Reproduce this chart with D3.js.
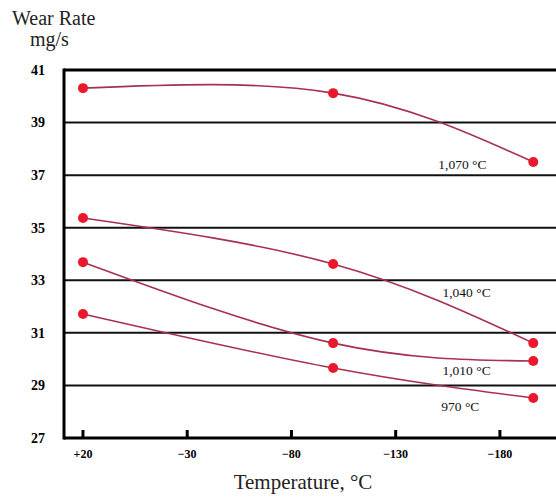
<!DOCTYPE html>
<html>
<head>
<meta charset="utf-8">
<script src="https://cdn.jsdelivr.net/npm/d3@7/dist/d3.min.js"></script>
<style>
  body { margin: 0; background: #fff; }
  svg { display: block; }
</style>
</head>
<body>
<div id="chart"></div>
<script>
// temperatures where wear was measured
const temps = [20, -100, -196];
const seriesNames = ['1,070 °C', '1,040 °C', '1,010 °C', '970 °C'];
const wear1070 = [40.31, 40.12, 37.5];
const wear1040 = [35.37, 33.62, 30.61];
const wear1010 = [33.69, 30.61, 29.93];
const wear970 = [31.72, 29.66, 28.52];
const xTicks = [20, -30, -80, -130, -180];
const xTickLabels = ['+20', '\u221230', '\u221280', '\u2212130', '\u2212180'];
const yTicks = [27, 29, 31, 33, 35, 37, 39, 41];
// where each series label sits (temperature, wear rate)
const labelSpots = [[-162, 37.23], [-164, 32.36], [-164, 29.4], [-161, 28.03]];

const W = 556, H = 499;
const margin = { top: 70, right: 0, bottom: 61, left: 64 };
const width = W - margin.left - margin.right;
const height = H - margin.top - margin.bottom;

const svg = d3.select('#chart').append('svg')
  .attr('width', W)
  .attr('height', H);

const g = svg.append('g')
  .attr('transform', `translate(${margin.left},${margin.top})`);

const x = d3.scaleLinear().domain([29.1, -206.9]).range([0, width]);
const y = d3.scaleLinear().domain([27, 41]).range([height, 0]);

// horizontal grid
g.selectAll('.grid')
  .data(yTicks.filter(d => d > 27 && d < 41))
  .join('line')
  .attr('class', 'grid')
  .attr('x1', 0).attr('x2', width)
  .attr('y1', d => y(d)).attr('y2', d => y(d))
  .attr('stroke', '#111').attr('stroke-width', 2);

// frame: top, left, bottom
g.append('line').attr('x1', 0).attr('x2', width).attr('y1', y(41)).attr('y2', y(41))
  .attr('stroke', '#000').attr('stroke-width', 3);
g.append('line').attr('x1', 0).attr('x2', 0).attr('y1', y(41) - 1.5).attr('y2', height + 1.5)
  .attr('stroke', '#000').attr('stroke-width', 3);
g.append('line').attr('x1', 0).attr('x2', width).attr('y1', height).attr('y2', height)
  .attr('stroke', '#000').attr('stroke-width', 3);

// x ticks point up into the plot
g.selectAll('.xtick')
  .data(xTicks)
  .join('line')
  .attr('class', 'xtick')
  .attr('x1', d => x(d)).attr('x2', d => x(d))
  .attr('y1', height).attr('y2', height - 8)
  .attr('stroke', '#000').attr('stroke-width', 3);

g.selectAll('.xlab')
  .data(xTicks)
  .join('text')
  .attr('class', 'xlab')
  .attr('x', d => x(d))
  .attr('y', height + 20)
  .attr('text-anchor', 'middle')
  .style('font', 'bold 12px "Liberation Serif", serif')
  .text((d, i) => xTickLabels[i]);

g.selectAll('.ylab')
  .data(yTicks)
  .join('text')
  .attr('class', 'ylab')
  .attr('x', -19)
  .attr('y', d => y(d))
  .attr('dy', '0.35em')
  .attr('text-anchor', 'end')
  .style('font', 'bold 14px "Liberation Serif", serif')
  .text(d => d);

// titles
svg.append('text').attr('x', 12).attr('y', 25)
  .style('font', '20px "Liberation Serif", serif').attr('fill', '#222')
  .text('Wear Rate');
svg.append('text').attr('x', 30).attr('y', 46)
  .style('font', '20px "Liberation Serif", serif').attr('fill', '#222')
  .text('mg/s');
svg.append('text').attr('x', 303).attr('y', 489)
  .attr('text-anchor', 'middle')
  .style('font', '21px "Liberation Serif", serif').attr('fill', '#222')
  .text('Temperature, \u00b0C');

const series = [wear1070, wear1040, wear1010, wear970];

const line = d3.line()
  .curve(d3.curveNatural)
  .x((d, i) => x(temps[i]))
  .y(d => y(d));

g.selectAll('.curve')
  .data(series)
  .join('path')
  .attr('class', 'curve')
  .attr('fill', 'none')
  .attr('stroke', '#a83050')
  .attr('stroke-width', 1.6)
  .attr('d', d => line(d));

series.forEach((vals, s) => {
  g.selectAll('.pt' + s)
    .data(vals)
    .join('circle')
    .attr('class', 'pt' + s)
    .attr('cx', (d, i) => x(temps[i]))
    .attr('cy', d => y(d))
    .attr('r', 5)
    .attr('fill', '#e8192c');
});

g.selectAll('.slab')
  .data(seriesNames)
  .join('text')
  .attr('class', 'slab')
  .attr('x', (d, i) => x(labelSpots[i][0]))
  .attr('y', (d, i) => y(labelSpots[i][1]))
  .attr('text-anchor', 'middle')
  .style('font', '13.5px "Liberation Serif", serif')
  .attr('fill', '#111')
  .text(d => d);
</script>
</body>
</html>
